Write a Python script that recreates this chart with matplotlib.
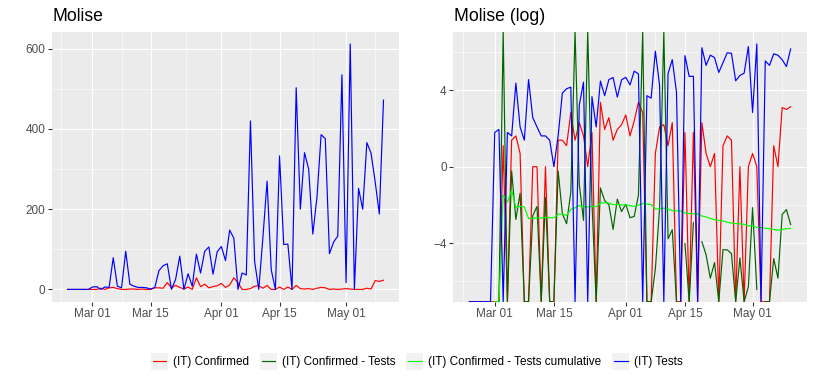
import numpy as np
import pandas as pd
import matplotlib
matplotlib.use("Agg")
import matplotlib.pyplot as plt
import matplotlib.dates as mdates
from matplotlib.ticker import MultipleLocator, FixedLocator
from matplotlib.legend_handler import HandlerBase
from matplotlib.patches import Rectangle
from matplotlib.lines import Line2D

plt.rcParams['font.family'] = ['Liberation Sans', 'DejaVu Sans']

# ---------------- data ----------------
dates = pd.date_range('2020-02-24', '2020-05-10', freq='D')

confirmed = [0, 0, 0, 0, 0, 0, 0, 0, 3, 0,
             4, 5, 2, 0, 0, 1, 1, 0, 1, 0,
             0, 4, 4, 3, 17, 4, 10, 5, 1, 6,
             0, 29, 7, 13, 4, 7, 9, 15, 5, 11,
             29, 17, 0, 0, 2, 8, 9, 3, 10, 0,
             0, 6, 0, 6, 0, 10, 2, 1, 2, 0,
             3, 5, 4, 0, 1, 0, 1, 2, 1, 0,
             0, 0, 3, 1, 22, 20, 23]

tests = [0, 0, 0, 0, 0, 0, 6, 7, 0, 6,
         5, 79, 8, 4, 95, 13, 8, 5, 5, 4,
         1, 5, 47, 59, 64, 0, 25, 83, 0, 39,
         8, 88, 41, 95, 106, 38, 94, 107, 72, 148,
         128, 0, 41, 36, 420, 70, 0, 130, 270, 49,
         0, 333, 112, 113, 0, 503, 200, 341, 300, 138,
         230, 386, 376, 89, 118, 133, 535, 17, 612, 0,
         252, 200, 366, 340, 268, 188, 472]

title_left = 'Molise'
title_right = 'Molise (log)'
series_labels = ['(IT) Confirmed', '(IT) Confirmed - Tests',
                 '(IT) Confirmed - Tests cumulative', '(IT) Tests']
series_colors = ['#FF0000', '#006400', '#00FF00', '#0000FF']
major_dates = ['2020-03-01', '2020-03-15', '2020-04-01', '2020-04-15', '2020-05-01']
outer_dates = ['2020-02-15', '2020-05-15']
left_ticks = [0, 200, 400, 600]
right_ticks = [-4, 0, 4]

# ---------------- derived ----------------
conf = np.array(confirmed, dtype=float)
tst = np.array(tests, dtype=float)
with np.errstate(divide='ignore', invalid='ignore'):
    log_conf = np.log(conf)
    log_tests = np.log(tst)
    log_ratio = log_conf - log_tests
    log_cum = np.log(np.cumsum(conf) / np.cumsum(tst))
log_series = [log_conf, log_ratio, log_cum, log_tests]

fig = plt.figure(figsize=(8.14, 3.8), dpi=100)
W, H = 814.0, 380.0
ax1 = fig.add_axes([51.7 / W, 1 - 301.7 / H, 347.6 / W, 270 / H])
ax2 = fig.add_axes([453.3 / W, 1 - 301.7 / H, 353.4 / W, 270 / H])

xnum = mdates.date2num(dates)
span = xnum.max() - xnum.min()
xlim = (xnum.min() - 0.05 * span, xnum.max() + 0.05 * span)
maj = mdates.date2num(pd.to_datetime(major_dates))
ext = np.concatenate([mdates.date2num(pd.to_datetime(outer_dates[:1])), maj,
                      mdates.date2num(pd.to_datetime(outer_dates[1:]))])
minor_x = (ext[:-1] + ext[1:]) / 2.0


def style(ax):
    ax.set_facecolor('#EBEBEB')
    for s in ax.spines.values():
        s.set_visible(False)
    ax.set_axisbelow(True)
    ax.grid(which='major', color='white', linewidth=0.8)
    ax.grid(which='minor', color='white', linewidth=0.4)
    ax.tick_params(which='major', length=2.64, width=0.77, color='#333333',
                   labelcolor='#4D4D4D', labelsize=8.45, pad=2.1)
    ax.tick_params(which='minor', length=0)
    ax.xaxis.set_major_locator(FixedLocator(maj))
    ax.xaxis.set_minor_locator(FixedLocator(minor_x))
    ax.xaxis.set_major_formatter(mdates.DateFormatter('%b %d'))
    ax.set_xlim(*xlim)


# left panel
style(ax1)
ax1.plot(dates, conf, color=series_colors[0], linewidth=0.85)
ax1.plot(dates, tst, color=series_colors[3], linewidth=0.85)
lo, hi = 0.0, max(conf.max(), tst.max())
lo = min(lo, conf.min(), tst.min())
pad = 0.05 * (hi - lo)
ax1.set_ylim(lo - pad, hi + pad)
ax1.yaxis.set_major_locator(FixedLocator(left_ticks))
ax1.yaxis.set_minor_locator(MultipleLocator(100))

# right panel
style(ax2)
finite = np.concatenate([s[np.isfinite(s)] for s in log_series])
lo2, hi2 = finite.min(), finite.max()
pad2 = 0.05 * (hi2 - lo2)
ylo, yhi = lo2 - pad2, hi2 + pad2
ax2.set_ylim(ylo, yhi)
handles = []
for s, c, lab in zip(log_series, series_colors, series_labels):
    y = s.copy()
    y[np.isposinf(y)] = yhi
    y[np.isneginf(y)] = ylo
    h, = ax2.plot(dates, y, color=c, linewidth=0.85, label=lab)
    handles.append(h)
ax2.yaxis.set_major_locator(FixedLocator(right_ticks))
ax2.yaxis.set_minor_locator(MultipleLocator(2))

fig.text(52.5 / W, 1 - 20.7 / H, title_left, fontsize=12.7, va='baseline', ha='left')
fig.text(453.5 / W, 1 - 20.7 / H, title_right, fontsize=12.7, va='baseline', ha='left')


class KeyHandler(HandlerBase):
    def create_artists(self, legend, orig_handle, xdescent, ydescent,
                       width, height, fontsize, trans):
        side = width
        x0 = -xdescent
        y0 = -ydescent + height / 2.0 - side / 2.0
        rect = Rectangle((x0, y0), side, side, facecolor='#F2F2F2',
                         edgecolor='none', transform=trans)
        ln = Line2D([x0 + 0.1 * side, x0 + 0.9 * side],
                    [y0 + side / 2.0, y0 + side / 2.0],
                    color=orig_handle.get_color(), linewidth=0.85,
                    transform=trans)
        return [rect, ln]


fig.legend(handles, series_labels, loc='center', bbox_to_anchor=(417 / W, 1 - 362 / H),
           ncol=4, frameon=False, fontsize=8.45, handlelength=1.45,
           handleheight=1.0, handletextpad=0.4, columnspacing=0.95,
           handler_map={Line2D: KeyHandler()})

fig.savefig('out.png', dpi=100)
